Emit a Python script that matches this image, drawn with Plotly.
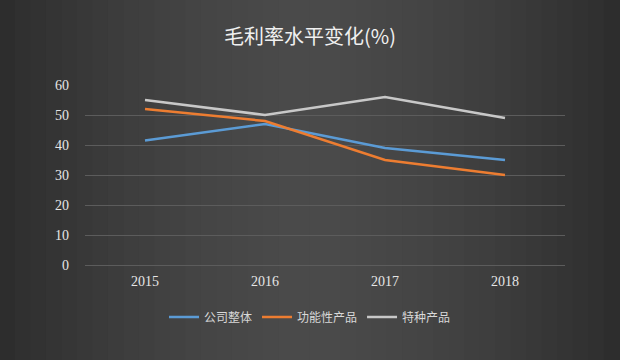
import plotly.graph_objects as go

years = ["2015", "2016", "2017", "2018"]
company_total = [41.5, 47, 39, 35]
functional = [52, 48, 35, 30]
special = [55, 50, 56, 49]

series_names = ["公司整体", "功能性产品", "特种产品"]
series_values = [company_total, functional, special]
series_colors = ["#5b9bd5", "#ed7d31", "#c8c8c8"]

W, H = 620, 360
fig = go.Figure()

for name, vals, col in zip(series_names, series_values, series_colors):
    fig.add_trace(go.Scatter(x=years, y=vals, mode="lines", name=name,
                             line=dict(color=col, width=2.5)))

# background gradient strips (style only)
n = 40
shapes = []
for i in range(n):
    t = (i + 0.5) / n
    d = abs(t - 0.5) * 2  # 0 at center, 1 at edge
    v = int(round(74 - 30 * d ** 1.6))
    shapes.append(dict(type="rect", xref="paper", yref="paper",
                       x0=i / n - 0.001, x1=(i + 1) / n + 0.002, y0=-0.01, y1=1.01,
                       fillcolor=f"rgb({v},{v},{v})", line=dict(width=0),
                       layer="below"))

tick_font = dict(family="Liberation Serif", size=14, color="#e6e6e6")

fig.update_layout(
    width=W, height=H, autosize=False,
    margin=dict(l=0, r=0, t=0, b=0, pad=0, autoexpand=False),
    paper_bgcolor="#2e2e2e",
    plot_bgcolor="rgba(0,0,0,0)",
    shapes=shapes,
    title=dict(text="毛利率水平变化(%)", x=0.5, xanchor="center",
               y=1 - 37 / H, yanchor="middle",
               font=dict(family="Noto Sans CJK SC", size=20, color="#f0f0f0")),
    xaxis=dict(domain=[85 / W, 565 / W], range=[-0.5, 3.5],
               showgrid=False, zeroline=False,
               showline=False, ticks="", automargin=False,
               ticklabelstandoff=6,
               tickfont=tick_font),
    yaxis=dict(domain=[1 - 265 / H, 1 - 85 / H], range=[0, 60], dtick=10,
               showgrid=True, gridcolor="#5c5c5c", gridwidth=1,
               zeroline=True, zerolinecolor="#5c5c5c", zerolinewidth=1,
               showline=False, ticks="", automargin=False,
               ticklabelstandoff=15,
               tickfont=tick_font),
    legend=dict(orientation="h", x=0.5, xanchor="center", y=1 - 317 / H,
                yanchor="middle", bgcolor="rgba(0,0,0,0)",
                font=dict(family="Noto Sans CJK SC", size=12, color="#d8d8d8"),
                itemwidth=30, tracegroupgap=0),
    showlegend=True,
)

fig.write_html("out.html", config={"responsive": False})
